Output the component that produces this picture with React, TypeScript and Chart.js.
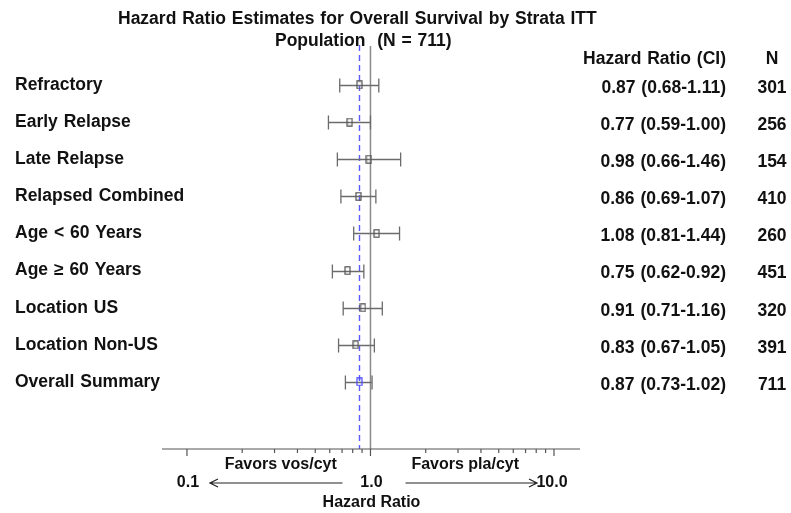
import React, { useEffect, useRef } from "react";
import { Chart, registerables } from "chart.js";

Chart.register(...registerables);

// Subgroups, top to bottom
const categories = [
  "Refractory",
  "Early Relapse",
  "Late Relapse",
  "Relapsed Combined",
  "Age < 60 Years",
  "Age \u2265 60 Years",
  "Location US",
  "Location Non-US",
  "Overall Summary",
];
const hazardRatio = [0.87, 0.77, 0.98, 0.86, 1.08, 0.75, 0.91, 0.83, 0.87];
const ciLower = [0.68, 0.59, 0.66, 0.69, 0.81, 0.62, 0.71, 0.67, 0.73];
const ciUpper = [1.11, 1.0, 1.46, 1.07, 1.44, 0.92, 1.16, 1.05, 1.02];
const patientsN = [301, 256, 154, 410, 260, 451, 320, 391, 711];

const axisTickLabels = [0.1, 1.0, 10.0];
const minorTicks = [
  0.2, 0.3, 0.4, 0.5, 0.6, 0.7, 0.8, 0.9, 2, 3, 4, 5, 6, 7, 8, 9,
];
const overallHR = hazardRatio[hazardRatio.length - 1];

const FONT = '"Liberation Sans", Arial, sans-serif';
const TEXT = "#111111";
const WHISKER = "#6b6b6b";
const BLUE = "#5a5aff";

function makeBox(color: string): HTMLCanvasElement {
  const c = document.createElement("canvas");
  c.width = 7;
  c.height = 9;
  const g = c.getContext("2d")!;
  g.strokeStyle = color;
  g.lineWidth = 1.2;
  g.strokeRect(1, 0.8, 5, 7.4);
  return c;
}

const forestPlugin = {
  id: "forest",
  beforeDatasetsDraw(chart: any) {
    const { ctx, chartArea, scales } = chart;
    const x = scales.x;
    const y = scales.y;
    ctx.save();
    // reference line at HR = 1
    const x1 = x.getPixelForValue(1);
    ctx.strokeStyle = "#8a8a8a";
    ctx.lineWidth = 1.5;
    ctx.beginPath();
    ctx.moveTo(x1, chartArea.top);
    ctx.lineTo(x1, chartArea.bottom);
    ctx.stroke();
    // overall estimate, dashed
    const xo = Math.round(x.getPixelForValue(overallHR)) + 0.5;
    ctx.strokeStyle = BLUE;
    ctx.lineWidth = 1.4;
    ctx.setLineDash([6, 4]);
    ctx.beginPath();
    ctx.moveTo(xo, chartArea.top - 1);
    ctx.lineTo(xo, chartArea.bottom);
    ctx.stroke();
    ctx.setLineDash([]);
    // confidence intervals
    ctx.strokeStyle = WHISKER;
    ctx.lineWidth = 1.3;
    categories.forEach((_, i) => {
      const py = Math.round(y.getPixelForValue(i)) + 0.5;
      const a = x.getPixelForValue(ciLower[i]);
      const b = x.getPixelForValue(ciUpper[i]);
      ctx.beginPath();
      ctx.moveTo(a, py);
      ctx.lineTo(b, py);
      ctx.moveTo(a, py - 7);
      ctx.lineTo(a, py + 7);
      ctx.moveTo(b, py - 7);
      ctx.lineTo(b, py + 7);
      ctx.stroke();
    });
    ctx.restore();
  },
  afterDraw(chart: any) {
    const { ctx, chartArea, scales } = chart;
    const x = scales.x;
    const y = scales.y;
    const axisY = chartArea.bottom;
    ctx.save();
    // horizontal axis line and ticks
    ctx.strokeStyle = "#555555";
    ctx.lineWidth = 1.2;
    ctx.beginPath();
    ctx.moveTo(chartArea.left, axisY);
    ctx.lineTo(chartArea.right, axisY);
    axisTickLabels.forEach((v) => {
      const px = x.getPixelForValue(v);
      ctx.moveTo(px, axisY);
      ctx.lineTo(px, axisY + 7);
    });
    minorTicks.forEach((v) => {
      const px = x.getPixelForValue(v);
      ctx.moveTo(px, axisY);
      ctx.lineTo(px, axisY + 4);
    });
    ctx.stroke();

    ctx.fillStyle = TEXT;
    ctx.textBaseline = "middle";
    (ctx as any).wordSpacing = "1px";
    // title
    ctx.font = `bold 17.5px ${FONT}`;
    ctx.textAlign = "left";
    ctx.fillText("Hazard Ratio Estimates for Overall Survival by Strata ITT", 118, 19);
    ctx.fillText("Population  (N = 711)", 275, 41);

    // column headers
    ctx.textAlign = "right";
    ctx.fillText("Hazard Ratio (CI)", 726, 59);
    ctx.textAlign = "center";
    ctx.fillText("N", 772, 59);

    // subgroup rows
    categories.forEach((label, i) => {
      const py = y.getPixelForValue(i);
      ctx.textAlign = "left";
      ctx.fillText(label, 15, py);
      ctx.textAlign = "right";
      ctx.fillText(
        `${hazardRatio[i].toFixed(2)} (${ciLower[i].toFixed(2)}-${ciUpper[i].toFixed(2)})`,
        726,
        py + 3
      );
      ctx.textAlign = "center";
      ctx.fillText(String(patientsN[i]), 772, py + 3);
    });

    // axis annotation
    (ctx as any).wordSpacing = "0px";
    ctx.font = `bold 16px ${FONT}`;
    const p01 = x.getPixelForValue(0.1);
    const p1 = x.getPixelForValue(1);
    const p10 = x.getPixelForValue(10);
    ctx.textAlign = "center";
    ctx.fillText("Favors vos/cyt", (p01 + p1) / 2 + 2, axisY + 16);
    ctx.fillText("Favors pla/cyt", (p1 + p10) / 2 + 3, axisY + 16);
    axisTickLabels.forEach((v) => {
      const label = v.toFixed(1);
      ctx.fillText(label, x.getPixelForValue(v) + (v === 10 ? -2 : 1), axisY + 34);
    });
    ctx.fillText("Hazard Ratio", p1 + 1, axisY + 54);

    // arrows
    const ay = axisY + 34;
    ctx.strokeStyle = "#222222";
    ctx.lineWidth = 1.2;
    ctx.beginPath();
    ctx.moveTo(p1 - 28, ay);
    ctx.lineTo(p01 + 23, ay);
    ctx.moveTo(p01 + 31, ay - 4);
    ctx.lineTo(p01 + 23, ay);
    ctx.lineTo(p01 + 31, ay + 4);
    ctx.moveTo(p1 + 35, ay);
    ctx.lineTo(p10 - 17, ay);
    ctx.moveTo(p10 - 25, ay - 4);
    ctx.lineTo(p10 - 17, ay);
    ctx.lineTo(p10 - 25, ay + 4);
    ctx.stroke();
    ctx.restore();
  },
};

export default function App() {
  const ref = useRef<HTMLCanvasElement | null>(null);

  useEffect(() => {
    if (!ref.current) return;
    const grayBox = makeBox("#555555");
    const blueBox = makeBox("#4a4aff");
    const points = hazardRatio.map((v, i) => ({ x: v, y: i }));
    const chart = new Chart(ref.current, {
      type: "scatter",
      data: {
        datasets: [
          {
            data: points,
            pointStyle: points.map((_, i) =>
              i === points.length - 1 ? blueBox : grayBox
            ) as any,
            pointRadius: 4,
          },
        ],
      },
      options: {
        animation: false,
        responsive: false,
        devicePixelRatio: 1,
        layout: { padding: { left: 162, right: 211, top: 46, bottom: 64 } },
        plugins: {
          legend: { display: false },
          tooltip: { enabled: false },
          title: { display: false },
        },
        scales: {
          x: {
            type: "logarithmic",
            min: 0.0731,
            max: 13.86,
            display: false,
          },
          y: {
            type: "linear",
            reverse: true,
            min: -1.05,
            max: 9.805,
            display: false,
          },
        },
      },
      plugins: [forestPlugin],
    });
    return () => chart.destroy();
  }, []);

  return (
    <div
      style={{
        position: "fixed",
        left: 0,
        top: 0,
        width: 791,
        height: 513,
        background: "#ffffff",
      }}
    >
      <canvas ref={ref} width={791} height={513} />
    </div>
  );
}
